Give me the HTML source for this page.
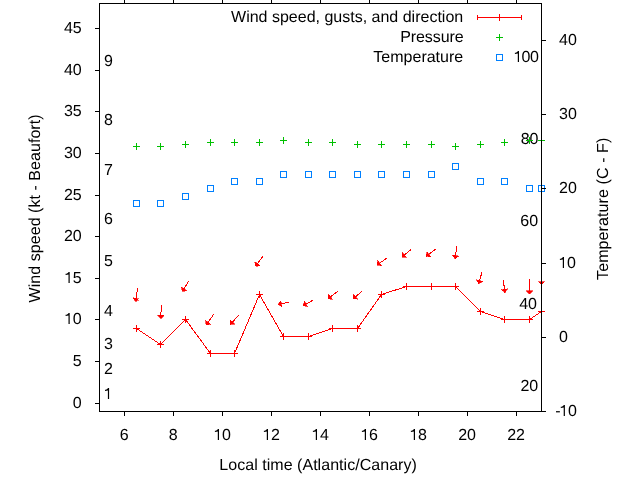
<!DOCTYPE html><html><head><meta charset="utf-8"><style>html,body{margin:0;padding:0;background:#fff;}svg{display:block;will-change:transform;text-rendering:geometricPrecision;}text{font-family:"Liberation Sans",sans-serif;font-size:16px;fill:#000;}</style></head><body>
<svg width="640" height="480" viewBox="0 0 640 480">
<text x="103.30" y="399"> </text><path transform="translate(103.30,399)" d="M5.8 0H4.6V-8.4C3.8-8.1 2.6-7.9 1.7-7.9V-9.2C3.1-9.3 4.1-9.9 4.7-11.0H5.8Z"/>
<text x="104.00" y="374">2</text>
<text x="104.00" y="349">3</text>
<text x="104.00" y="316">4</text>
<text x="104.00" y="266">5</text>
<text x="104.00" y="224">6</text>
<text x="104.00" y="175">7</text>
<text x="104.00" y="125">8</text>
<text x="104.00" y="66">9</text>
<text x="520.45" y="391">20</text>
<text x="519.20" y="309">40</text>
<text x="520.30" y="226">60</text>
<text x="520.65" y="144">80</text>
<text x="513.20" y="62"> </text><path transform="translate(513.20,62)" d="M5.8 0H4.6V-8.4C3.8-8.1 2.6-7.9 1.7-7.9V-9.2C3.1-9.3 4.1-9.9 4.7-11.0H5.8Z"/>
<text x="521.45" y="62">0</text>
<text x="529.90" y="62">0</text>
<g shape-rendering="crispEdges">
<polyline points="136.5,328.5 160.5,344.5 185.5,319.5 210.5,353.5 234.5,353.5 259.5,294.5 283.5,336.5 308.5,336.5 332.5,328.5 357.5,328.5 381.5,294.5 406.5,286.5 431.5,286.5 455.5,286.5 480.5,311.5 504.5,319.5 529.5,319.5 541.5,311.5" fill="none" stroke="#ff0000" stroke-width="1"/>
<path d="M133,328.5h7M136.5,325v7" stroke="#ff0000" stroke-width="1" fill="none"/>
<path d="M157,344.5h7M160.5,341v7" stroke="#ff0000" stroke-width="1" fill="none"/>
<path d="M182,319.5h7M185.5,316v7" stroke="#ff0000" stroke-width="1" fill="none"/>
<path d="M207,353.5h7M210.5,350v7" stroke="#ff0000" stroke-width="1" fill="none"/>
<path d="M231,353.5h7M234.5,350v7" stroke="#ff0000" stroke-width="1" fill="none"/>
<path d="M256,294.5h7M259.5,291v7" stroke="#ff0000" stroke-width="1" fill="none"/>
<path d="M280,336.5h7M283.5,333v7" stroke="#ff0000" stroke-width="1" fill="none"/>
<path d="M305,336.5h7M308.5,333v7" stroke="#ff0000" stroke-width="1" fill="none"/>
<path d="M329,328.5h7M332.5,325v7" stroke="#ff0000" stroke-width="1" fill="none"/>
<path d="M354,328.5h7M357.5,325v7" stroke="#ff0000" stroke-width="1" fill="none"/>
<path d="M378,294.5h7M381.5,291v7" stroke="#ff0000" stroke-width="1" fill="none"/>
<path d="M403,286.5h7M406.5,283v7" stroke="#ff0000" stroke-width="1" fill="none"/>
<path d="M428,286.5h7M431.5,283v7" stroke="#ff0000" stroke-width="1" fill="none"/>
<path d="M452,286.5h7M455.5,283v7" stroke="#ff0000" stroke-width="1" fill="none"/>
<path d="M477,311.5h7M480.5,308v7" stroke="#ff0000" stroke-width="1" fill="none"/>
<path d="M501,319.5h7M504.5,316v7" stroke="#ff0000" stroke-width="1" fill="none"/>
<path d="M526,319.5h7M529.5,316v7" stroke="#ff0000" stroke-width="1" fill="none"/>
<path d="M538,311.5h7M541.5,308v7" stroke="#ff0000" stroke-width="1" fill="none"/>
<path d="M133,146.5h7M136.5,143v7" stroke="#00c000" stroke-width="1" fill="none"/>
<path d="M157,146.5h7M160.5,143v7" stroke="#00c000" stroke-width="1" fill="none"/>
<path d="M182,144.5h7M185.5,141v7" stroke="#00c000" stroke-width="1" fill="none"/>
<path d="M207,142.5h7M210.5,139v7" stroke="#00c000" stroke-width="1" fill="none"/>
<path d="M231,142.5h7M234.5,139v7" stroke="#00c000" stroke-width="1" fill="none"/>
<path d="M256,142.5h7M259.5,139v7" stroke="#00c000" stroke-width="1" fill="none"/>
<path d="M280,140.5h7M283.5,137v7" stroke="#00c000" stroke-width="1" fill="none"/>
<path d="M305,142.5h7M308.5,139v7" stroke="#00c000" stroke-width="1" fill="none"/>
<path d="M329,142.5h7M332.5,139v7" stroke="#00c000" stroke-width="1" fill="none"/>
<path d="M354,144.5h7M357.5,141v7" stroke="#00c000" stroke-width="1" fill="none"/>
<path d="M378,144.5h7M381.5,141v7" stroke="#00c000" stroke-width="1" fill="none"/>
<path d="M403,144.5h7M406.5,141v7" stroke="#00c000" stroke-width="1" fill="none"/>
<path d="M428,144.5h7M431.5,141v7" stroke="#00c000" stroke-width="1" fill="none"/>
<path d="M452,146.5h7M455.5,143v7" stroke="#00c000" stroke-width="1" fill="none"/>
<path d="M477,144.5h7M480.5,141v7" stroke="#00c000" stroke-width="1" fill="none"/>
<path d="M501,142.5h7M504.5,139v7" stroke="#00c000" stroke-width="1" fill="none"/>
<path d="M526,140.5h7M529.5,137v7" stroke="#00c000" stroke-width="1" fill="none"/>
<path d="M538,140.5h7M541.5,137v7" stroke="#00c000" stroke-width="1" fill="none"/>
<rect x="133.5" y="200.5" width="6" height="6" stroke="#0080ff" stroke-width="1" fill="none"/>
<rect x="157.5" y="200.5" width="6" height="6" stroke="#0080ff" stroke-width="1" fill="none"/>
<rect x="182.5" y="193.5" width="6" height="6" stroke="#0080ff" stroke-width="1" fill="none"/>
<rect x="207.5" y="185.5" width="6" height="6" stroke="#0080ff" stroke-width="1" fill="none"/>
<rect x="231.5" y="178.5" width="6" height="6" stroke="#0080ff" stroke-width="1" fill="none"/>
<rect x="256.5" y="178.5" width="6" height="6" stroke="#0080ff" stroke-width="1" fill="none"/>
<rect x="280.5" y="171.5" width="6" height="6" stroke="#0080ff" stroke-width="1" fill="none"/>
<rect x="305.5" y="171.5" width="6" height="6" stroke="#0080ff" stroke-width="1" fill="none"/>
<rect x="329.5" y="171.5" width="6" height="6" stroke="#0080ff" stroke-width="1" fill="none"/>
<rect x="354.5" y="171.5" width="6" height="6" stroke="#0080ff" stroke-width="1" fill="none"/>
<rect x="378.5" y="171.5" width="6" height="6" stroke="#0080ff" stroke-width="1" fill="none"/>
<rect x="403.5" y="171.5" width="6" height="6" stroke="#0080ff" stroke-width="1" fill="none"/>
<rect x="428.5" y="171.5" width="6" height="6" stroke="#0080ff" stroke-width="1" fill="none"/>
<rect x="452.5" y="163.5" width="6" height="6" stroke="#0080ff" stroke-width="1" fill="none"/>
<rect x="477.5" y="178.5" width="6" height="6" stroke="#0080ff" stroke-width="1" fill="none"/>
<rect x="501.5" y="178.5" width="6" height="6" stroke="#0080ff" stroke-width="1" fill="none"/>
<rect x="526.5" y="185.5" width="6" height="6" stroke="#0080ff" stroke-width="1" fill="none"/>
<rect x="538.5" y="185.5" width="6" height="6" stroke="#0080ff" stroke-width="1" fill="none"/>
</g>
<g shape-rendering="crispEdges">
<line x1="137.50" y1="288.50" x2="135.50" y2="301.50" stroke="#ff0000" stroke-width="1"/>
<path d="M135.50,301.50L139.21,298.78L132.78,297.79Z" fill="#ff0000" stroke="#ff0000" stroke-width="0.6"/>
<line x1="161.50" y1="305.50" x2="160.50" y2="318.50" stroke="#ff0000" stroke-width="1"/>
<path d="M160.50,318.50L163.99,315.51L157.51,315.01Z" fill="#ff0000" stroke="#ff0000" stroke-width="0.6"/>
<line x1="188.50" y1="281.50" x2="182.50" y2="291.50" stroke="#ff0000" stroke-width="1"/>
<path d="M182.50,291.50L186.96,290.38L181.38,287.04Z" fill="#ff0000" stroke="#ff0000" stroke-width="0.6"/>
<line x1="213.75" y1="314.25" x2="206.25" y2="325.00" stroke="#ff0000" stroke-width="1"/>
<path d="M206.25,325.00L210.78,324.19L205.44,320.47Z" fill="#ff0000" stroke="#ff0000" stroke-width="0.6"/>
<line x1="238.75" y1="315.00" x2="230.50" y2="324.50" stroke="#ff0000" stroke-width="1"/>
<path d="M230.50,324.50L235.09,324.18L230.18,319.91Z" fill="#ff0000" stroke="#ff0000" stroke-width="0.6"/>
<line x1="263.00" y1="256.25" x2="255.50" y2="266.25" stroke="#ff0000" stroke-width="1"/>
<path d="M255.50,266.25L260.05,265.60L254.85,261.70Z" fill="#ff0000" stroke="#ff0000" stroke-width="0.6"/>
<line x1="288.60" y1="302.40" x2="278.10" y2="304.30" stroke="#ff0000" stroke-width="1"/>
<path d="M278.10,304.30L281.88,306.92L280.72,300.52Z" fill="#ff0000" stroke="#ff0000" stroke-width="0.6"/>
<line x1="312.80" y1="300.30" x2="303.20" y2="305.50" stroke="#ff0000" stroke-width="1"/>
<path d="M303.20,305.50L307.61,306.81L304.51,301.09Z" fill="#ff0000" stroke="#ff0000" stroke-width="0.6"/>
<line x1="338.00" y1="291.25" x2="328.00" y2="298.75" stroke="#ff0000" stroke-width="1"/>
<path d="M328.00,298.75L332.55,299.40L328.65,294.20Z" fill="#ff0000" stroke="#ff0000" stroke-width="0.6"/>
<line x1="362.00" y1="291.25" x2="353.25" y2="298.75" stroke="#ff0000" stroke-width="1"/>
<path d="M353.25,298.75L357.84,299.10L353.60,294.16Z" fill="#ff0000" stroke="#ff0000" stroke-width="0.6"/>
<line x1="387.00" y1="258.00" x2="377.00" y2="265.00" stroke="#ff0000" stroke-width="1"/>
<path d="M377.00,265.00L381.53,265.80L377.80,260.47Z" fill="#ff0000" stroke="#ff0000" stroke-width="0.6"/>
<line x1="411.25" y1="249.25" x2="402.00" y2="257.00" stroke="#ff0000" stroke-width="1"/>
<path d="M402.00,257.00L406.58,257.40L402.40,252.42Z" fill="#ff0000" stroke="#ff0000" stroke-width="0.6"/>
<line x1="436.25" y1="248.75" x2="426.25" y2="256.25" stroke="#ff0000" stroke-width="1"/>
<path d="M426.25,256.25L430.80,256.90L426.90,251.70Z" fill="#ff0000" stroke="#ff0000" stroke-width="0.6"/>
<line x1="457.00" y1="246.25" x2="455.00" y2="258.75" stroke="#ff0000" stroke-width="1"/>
<path d="M455.00,258.75L458.73,256.05L452.30,255.02Z" fill="#ff0000" stroke="#ff0000" stroke-width="0.6"/>
<line x1="482.00" y1="272.00" x2="478.75" y2="283.75" stroke="#ff0000" stroke-width="1"/>
<path d="M478.75,283.75L482.75,281.48L476.48,279.75Z" fill="#ff0000" stroke="#ff0000" stroke-width="0.6"/>
<line x1="503.25" y1="280.00" x2="505.00" y2="292.50" stroke="#ff0000" stroke-width="1"/>
<path d="M505.00,292.50L507.77,288.83L501.33,289.73Z" fill="#ff0000" stroke="#ff0000" stroke-width="0.6"/>
<line x1="529.25" y1="278.75" x2="529.25" y2="293.75" stroke="#ff0000" stroke-width="1"/>
<path d="M529.25,293.75L532.50,290.50L526.00,290.50Z" fill="#ff0000" stroke="#ff0000" stroke-width="0.6"/>
<line x1="541.50" y1="271.00" x2="541.50" y2="284.80" stroke="#ff0000" stroke-width="1"/>
<path d="M541.50,284.80L544.75,281.55L538.25,281.55Z" fill="#ff0000" stroke="#ff0000" stroke-width="0.6"/>
</g>
<path d="M99.5,3.5H541.5V411.5H99.5ZM124.5,411V416M124.5,0V3M173.5,411V416M173.5,0V3M222.5,411V416M222.5,0V3M271.5,411V416M271.5,0V3M320.5,411V416M320.5,0V3M369.5,411V416M369.5,0V3M418.5,411V416M418.5,0V3M467.5,411V416M467.5,0V3M516.5,411V416M516.5,0V3M95,403.5H99M95,361.5H99M95,319.5H99M95,278.5H99M95,236.5H99M95,195.5H99M95,153.5H99M95,111.5H99M95,70.5H99M95,28.5H99M542,411.5H546M542,337.5H546M542,263.5H546M542,188.5H546M542,114.5H546M542,40.5H546" stroke="#000" stroke-width="1" fill="none" shape-rendering="crispEdges"/>
<text x="72.80" y="408">0</text>
<text x="72.80" y="366">5</text>
<text x="63.90" y="324"> 0</text><path transform="translate(63.90,324)" d="M5.8 0H4.6V-8.4C3.8-8.1 2.6-7.9 1.7-7.9V-9.2C3.1-9.3 4.1-9.9 4.7-11.0H5.8Z"/>
<text x="63.90" y="283"> 5</text><path transform="translate(63.90,283)" d="M5.8 0H4.6V-8.4C3.8-8.1 2.6-7.9 1.7-7.9V-9.2C3.1-9.3 4.1-9.9 4.7-11.0H5.8Z"/>
<text x="63.90" y="241">20</text>
<text x="63.90" y="200">25</text>
<text x="63.90" y="158">30</text>
<text x="63.90" y="116">35</text>
<text x="63.90" y="75">40</text>
<text x="63.90" y="33">45</text>
<text x="119.65" y="440">6</text>
<text x="168.65" y="440">8</text>
<text x="213.20" y="440"> 0</text><path transform="translate(213.20,440)" d="M5.8 0H4.6V-8.4C3.8-8.1 2.6-7.9 1.7-7.9V-9.2C3.1-9.3 4.1-9.9 4.7-11.0H5.8Z"/>
<text x="262.20" y="440"> 2</text><path transform="translate(262.20,440)" d="M5.8 0H4.6V-8.4C3.8-8.1 2.6-7.9 1.7-7.9V-9.2C3.1-9.3 4.1-9.9 4.7-11.0H5.8Z"/>
<text x="311.20" y="440"> 4</text><path transform="translate(311.20,440)" d="M5.8 0H4.6V-8.4C3.8-8.1 2.6-7.9 1.7-7.9V-9.2C3.1-9.3 4.1-9.9 4.7-11.0H5.8Z"/>
<text x="360.20" y="440"> 6</text><path transform="translate(360.20,440)" d="M5.8 0H4.6V-8.4C3.8-8.1 2.6-7.9 1.7-7.9V-9.2C3.1-9.3 4.1-9.9 4.7-11.0H5.8Z"/>
<text x="409.20" y="440"> 8</text><path transform="translate(409.20,440)" d="M5.8 0H4.6V-8.4C3.8-8.1 2.6-7.9 1.7-7.9V-9.2C3.1-9.3 4.1-9.9 4.7-11.0H5.8Z"/>
<text x="458.20" y="440">20</text>
<text x="507.20" y="440">22</text>
<text x="555.20" y="416">-</text>
<text x="559.10" y="416"> 0</text><path transform="translate(559.10,416)" d="M5.8 0H4.6V-8.4C3.8-8.1 2.6-7.9 1.7-7.9V-9.2C3.1-9.3 4.1-9.9 4.7-11.0H5.8Z"/>
<text x="559.00" y="342">0</text>
<text x="558.20" y="268"> 0</text><path transform="translate(558.20,268)" d="M5.8 0H4.6V-8.4C3.8-8.1 2.6-7.9 1.7-7.9V-9.2C3.1-9.3 4.1-9.9 4.7-11.0H5.8Z"/>
<text x="559.00" y="193">20</text>
<text x="559.00" y="119">30</text>
<text x="559.00" y="45">40</text>
<text x="219.3" y="470" textLength="197.5" lengthAdjust="spacing">Local time (Atlantic/Canary)</text>
<text transform="translate(39.7,302.4) rotate(-90)" textLength="187.95" lengthAdjust="spacing">Wind speed (kt - Beaufort)</text>
<text transform="translate(608.4,279.9) rotate(-90)" textLength="142.2" lengthAdjust="spacing">Temperature (C - F)</text>
<text x="463.2" y="21.5" text-anchor="end">Wind speed, gusts, and direction</text>
<text x="463.6" y="41.5" text-anchor="end" textLength="63.33" lengthAdjust="spacing">Pressure</text>
<text x="463.2" y="61.5" text-anchor="end">Temperature</text>
<path d="M477,17.5H522M477.5,15V20M521.5,15V20M499.5,14V21" stroke="#ff0000" stroke-width="1" fill="none" shape-rendering="crispEdges"/>
<path d="M496,37.5h7M499.5,34v7" stroke="#00c000" stroke-width="1" fill="none"/>
<rect x="496.5" y="54.5" width="6" height="6" stroke="#0080ff" stroke-width="1" fill="none"/>
</svg></body></html>
